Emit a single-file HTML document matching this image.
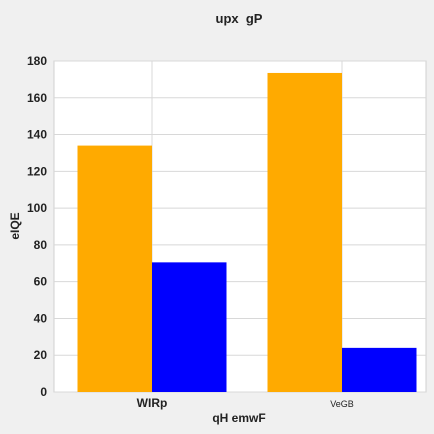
<!DOCTYPE html>
<html><head><meta charset="utf-8"><style>
body{margin:0;background:#f0f0f0;}
svg{display:block;font-family:"Liberation Sans",sans-serif;}
</style></head><body>
<svg width="434" height="434">
<rect x="0" y="0" width="434" height="434" fill="#f0f0f0"/>
<text x="239" y="23" text-anchor="middle" font-size="13" font-weight="bold" fill="#222">upx&#160; gP</text>
<g id="plot"></g>
<text x="239" y="422" text-anchor="middle" font-size="12" font-weight="bold" fill="#222">qH emwF</text>
<text transform="translate(19,226) rotate(-90)" text-anchor="middle" font-size="12" font-weight="bold" fill="#222">eIQE</text>
</svg>
<script>
const categories=["WIRp","VeGB"];
const seriesA=[134,173.5];
const seriesB=[70.5,24];
const yTicks=[0,20,40,60,80,100,120,140,160,180];
const NS="http://www.w3.org/2000/svg";
const g=document.getElementById('plot');
const L=54,R=426,T=61,B=392,yMax=180;
function y(v){return B-(v/yMax)*(B-T);}
function cx(i){return 152+i*190;}
const bw=74.5;
function mk(tag,attrs,text){const e=document.createElementNS(NS,tag);for(const k in attrs)e.setAttribute(k,attrs[k]);if(text!==undefined)e.textContent=text;g.appendChild(e);return e;}
let e=mk('rect',{x:L,y:T,width:R-L,height:B-T,fill:'#fff',stroke:'#d0d0d0'});


yTicks.forEach(t=>{
 let l=mk('line',{x1:L,x2:R,y1:y(t),y2:y(t),stroke:'#d8d8d8'});
 
 
 let tx=mk('text',{x:47,y:y(t)+4,'text-anchor':'end','font-size':12,'font-weight':'bold',fill:'#222'},String(t));
 
 
});
categories.forEach((c,i)=>{
 let l=mk('line',{x1:cx(i),x2:cx(i),y1:T,y2:B,stroke:'#d8d8d8'});
 
 
 let a=mk('rect',{x:cx(i)-bw,y:y(seriesA[i]),width:bw,height:B-y(seriesA[i]),fill:'#ffaa00'});
 
 
 let b=mk('rect',{x:cx(i),y:y(seriesB[i]),width:bw,height:B-y(seriesB[i]),fill:'#0000ff'});
 
 
 let t=mk('text',{x:cx(i),y:407,'text-anchor':'middle','font-size':i===0?12:9,'font-weight':i===0?'bold':'normal',fill:'#222'},c);
 
 
});
</script>
</body></html>
